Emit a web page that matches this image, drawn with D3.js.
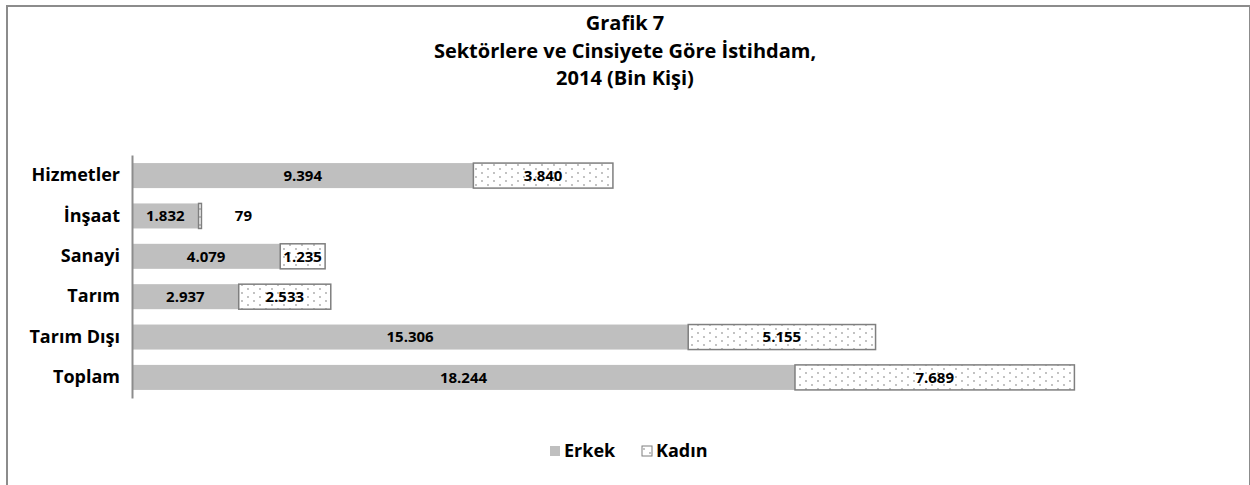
<!DOCTYPE html>
<html>
<head>
<meta charset="utf-8">
<script src="https://cdn.jsdelivr.net/npm/d3@7"></script>
<style>
  body { margin: 0; background: #fff; }
  text { font-family: "Open Sans", sans-serif; font-weight: bold; fill: #000; }
</style>
</head>
<body>
<div id="chart"></div>
<script>
// data
var categories = ["Hizmetler", "İnşaat", "Sanayi", "Tarım", "Tarım Dışı", "Toplam"];
var erkek = [9394, 1832, 4079, 2937, 15306, 18244];
var kadin = [3840, 79, 1235, 2533, 5155, 7689];
var seriesNames = ["Erkek", "Kadın"];
var titleLines = ["Grafik 7", "Sektörlere ve Cinsiyete Göre İstihdam,", "2014 (Bin Kişi)"];

var W = 1250, H = 485;
var margin = {top: 155, right: 176, bottom: 87, left: 132};
var width = W - margin.left - margin.right,
    height = H - margin.top - margin.bottom;

var fmt = function(v) { return d3.format(",")(v).replace(/,/g, "."); };

var svg = d3.select("#chart").append("svg")
    .attr("width", W)
    .attr("height", H);

// dotted pattern for Kadın
var defs = svg.append("defs");
var pat = defs.append("pattern")
    .attr("id", "dots")
    .attr("patternUnits", "userSpaceOnUse")
    .attr("width", 12).attr("height", 8);
pat.append("rect").attr("width", 12).attr("height", 8).attr("fill", "#fff");
[[2, 2], [8, 6]].forEach(function(p) {
  pat.append("circle").attr("cx", p[0]).attr("cy", p[1]).attr("r", 0.9).attr("fill", "#a6a6a6");
});

// outer frame
svg.append("rect")
    .attr("x", 7).attr("y", 6)
    .attr("width", W - 7).attr("height", H)
    .attr("fill", "none")
    .attr("stroke", "#8c8c8c")
    .attr("stroke-width", 2);

// title
svg.selectAll(".title").data(titleLines).enter().append("text")
    .attr("class", "title")
    .attr("x", 625)
    .attr("y", function(d, i) { return 30 + i * 27.5; })
    .attr("text-anchor", "middle")
    .style("font-size", "20px")
    .text(function(d) { return d; });

var plot = svg.append("g")
    .attr("transform", "translate(" + margin.left + "," + margin.top + ")");

var x = d3.scaleLinear().domain([0, 26000]).range([0, 26000 * 0.03634]);
var y = d3.scaleBand().domain(categories).range([0, height]).paddingInner(0.38).paddingOuter(0.2);

var rows = categories.map(function(c, i) { return {cat: c, e: erkek[i], k: kadin[i]}; });

// Erkek bars
plot.selectAll(".bar-e").data(rows).enter().append("rect")
    .attr("class", "bar-e")
    .attr("x", 0)
    .attr("y", function(d) { return y(d.cat); })
    .attr("width", function(d) { return x(d.e); })
    .attr("height", y.bandwidth())
    .attr("fill", "#bfbfbf");

// Kadın bars
plot.selectAll(".bar-k").data(rows).enter().append("rect")
    .attr("class", "bar-k")
    .attr("x", function(d) { return x(d.e); })
    .attr("y", function(d) { return y(d.cat); })
    .attr("width", function(d) { return x(d.k); })
    .attr("height", y.bandwidth())
    .attr("fill", "url(#dots)")
    .attr("stroke", "#7f7f7f")
    .attr("stroke-width", 1.5);

// value labels
plot.selectAll(".lab-e").data(rows).enter().append("text")
    .attr("x", function(d) { return x(d.e) / 2; })
    .attr("y", function(d) { return y(d.cat) + y.bandwidth() / 2; })
    .attr("dy", "0.35em")
    .attr("text-anchor", "middle")
    .style("font-size", "15px")
    .text(function(d) { return fmt(d.e); });

plot.selectAll(".lab-k").data(rows).enter().append("text")
    .attr("x", function(d) {
      var w = x(d.k);
      return w < 30 ? x(d.e + d.k) + 42 : x(d.e) + w / 2;
    })
    .attr("y", function(d) { return y(d.cat) + y.bandwidth() / 2; })
    .attr("dy", "0.35em")
    .attr("text-anchor", "middle")
    .style("font-size", "15px")
    .text(function(d) { return fmt(d.k); });

// y axis
var yAxis = plot.append("g").call(d3.axisLeft(y).tickSize(0).tickPadding(12));
yAxis.select(".domain").attr("stroke", "#8c8c8c").attr("stroke-width", 2);
yAxis.selectAll("text")
    .attr("font-size", null)
    .style("font-size", "18px")
    .style("font-family", "'Open Sans', sans-serif")
    .style("font-weight", "bold");

// legend
var legend = svg.append("g").attr("transform", "translate(0,451)");
var lx = [550, 642];
legend.selectAll("rect").data(seriesNames).enter().append("rect")
    .attr("x", function(d, i) { return lx[i]; })
    .attr("y", -5)
    .attr("width", 10).attr("height", 10)
    .attr("fill", function(d, i) { return i === 0 ? "#bfbfbf" : "url(#dots)"; })
    .attr("stroke", function(d, i) { return i === 0 ? "none" : "#7f7f7f"; });
legend.selectAll("text").data(seriesNames).enter().append("text")
    .attr("x", function(d, i) { return lx[i] + 14; })
    .attr("dy", "0.35em")
    .style("font-size", "18px")
    .text(function(d) { return d; });
</script>
</body>
</html>
